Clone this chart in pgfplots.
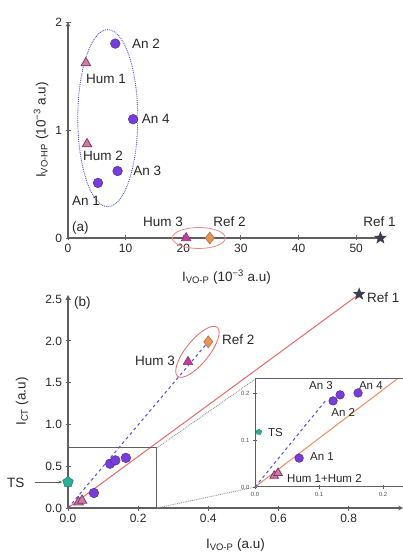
\documentclass[border=0pt]{standalone}
\usepackage{fontspec}
\setmainfont{Liberation Sans}
\usepackage{pgfplots}
\pgfplotsset{compat=1.18}
\usetikzlibrary{shapes.geometric,arrows.meta}
\definecolor{anC}{RGB}{118,62,214}
\definecolor{anD}{RGB}{80,40,160}
\definecolor{humC}{RGB}{176,72,130}
\definecolor{humD}{RGB}{140,50,100}
\definecolor{hum3C}{RGB}{200,60,160}
\definecolor{refC}{RGB}{225,150,90}
\definecolor{refD}{RGB}{190,110,60}
\definecolor{starC}{RGB}{60,60,80}
\definecolor{tsC}{RGB}{40,175,150}
\definecolor{blueL}{RGB}{80,80,225}
\definecolor{redL}{RGB}{230,105,105}
\definecolor{orL}{RGB}{240,140,100}
\definecolor{axgray}{RGB}{95,95,95}
\definecolor{txt}{RGB}{40,40,40}
\pgfdeclareplotmark{fstar}{%
  \pgfpathmoveto{\pgfpointpolar{90}{\pgfplotmarksize}}%
  \pgfpathlineto{\pgfpointpolar{126}{0.42\pgfplotmarksize}}%
  \pgfpathlineto{\pgfpointpolar{162}{\pgfplotmarksize}}%
  \pgfpathlineto{\pgfpointpolar{198}{0.42\pgfplotmarksize}}%
  \pgfpathlineto{\pgfpointpolar{234}{\pgfplotmarksize}}%
  \pgfpathlineto{\pgfpointpolar{270}{0.42\pgfplotmarksize}}%
  \pgfpathlineto{\pgfpointpolar{306}{\pgfplotmarksize}}%
  \pgfpathlineto{\pgfpointpolar{342}{0.42\pgfplotmarksize}}%
  \pgfpathlineto{\pgfpointpolar{18}{\pgfplotmarksize}}%
  \pgfpathlineto{\pgfpointpolar{54}{0.42\pgfplotmarksize}}%
  \pgfpathclose\pgfusepathqfillstroke}
\tikzset{
  lab/.style={font=\fontsize{13.5}{15}\selectfont, text=txt, inner sep=0pt},
  slab/.style={font=\fontsize{11.5}{13}\selectfont, text=txt, inner sep=0pt},
}
\pgfplotsset{
  base/.style={
    scale only axis, enlargelimits=false, clip=false,
    axis line style={-, axgray, line width=1.1pt},
    tick style={axgray, line width=0.9pt},
    tick align=center, major tick length=5pt,
    tick label style={font=\fontsize{12}{14}\selectfont, text=txt},
    /pgf/number format/assume math mode=true,
    label style={font=\fontsize{13.5}{15}\selectfont, text=txt},
  },
  anM/.style={only marks, mark=*, mark size=4.8pt, mark options={fill=anC, draw=anD, line width=0.5pt}},
  humM/.style={only marks, mark=triangle*, mark size=5.5pt, mark options={fill=humC!70, draw=humD, line width=0.8pt}},
  starM/.style={only marks, mark=fstar, mark size=6pt, mark options={fill=starC, draw=starC, line width=0.5pt}},
}
\begin{document}
\begin{tikzpicture}
\useasboundingbox (0,0) rectangle (403pt,553pt);
% ---------------- panel (a)
\begin{axis}[base,
  at={(68pt,315pt)}, anchor=south west, width=317pt, height=216pt,
  xmin=0, xmax=55, ymin=0, ymax=2,
  axis x line=bottom, axis y line=left,
  xtick={0,10,20,30,40,50}, ytick={0,1,2},
  xlabel={I\textsubscript{VO-P} (10\textsuperscript{−3} a.u)},
  ylabel={I\textsubscript{VO-HP} (10\textsuperscript{−3} a.u)},
  xlabel style={at={(axis description cs:0.5,-0.18)}, anchor=center},
  ylabel style={at={(axis description cs:-0.085,0.5)}, anchor=center},
]
\node[draw=blueL, densely dotted, line width=0.9pt, ellipse, minimum width=60pt, minimum height=177pt, inner sep=0pt] at (axis cs:6.9,1.11) {};
\node[draw=redL!80, line width=0.8pt, ellipse, minimum width=53pt, minimum height=21pt, inner sep=0pt] at (axis cs:22.7,0) {};
\addplot[anM] coordinates {(5.2,0.51) (8.2,1.80) (8.6,0.62) (11.3,1.10)};
\addplot[humM] coordinates {(3.1,1.62) (3.3,0.87)};
\addplot[only marks, mark=triangle*, mark size=5.5pt, mark options={fill=hum3C, draw=humD, line width=0.6pt}] coordinates {(20.5,0)};
\addplot[only marks, mark=diamond*, mark size=6pt, mark options={fill=refC, draw=refD, line width=0.6pt}] coordinates {(24.6,0)};
\addplot[starM] coordinates {(54.2,0)};
\node[lab, anchor=west] at (axis cs:11.1,1.80) {An 2};
\node[lab, anchor=west] at (axis cs:3.1,1.47) {Hum 1};
\node[lab, anchor=west] at (axis cs:12.8,1.10) {An 4};
\node[lab, anchor=west] at (axis cs:2.6,0.76) {Hum 2};
\node[lab, anchor=west] at (axis cs:11.3,0.62) {An 3};
\node[lab, anchor=west] at (axis cs:0.7,0.34) {An 1};
\node[lab, anchor=west] at (axis cs:0.7,0.09) {(a)};
\node[lab, anchor=west] at (axis cs:13.0,0.15) {Hum 3};
\node[lab, anchor=west] at (axis cs:25.2,0.15) {Ref 2};
\node[lab, anchor=west] at (axis cs:51.2,0.15) {Ref 1};
\end{axis}
% ---------------- panel (b)
\begin{axis}[base,
  at={(68pt,45pt)}, anchor=south west, width=335pt, height=213pt,
  xmin=0, xmax=0.955, ymin=0, ymax=2.55,
  axis x line=bottom, axis y line=left,
  xtick={0,0.2,0.4,0.6,0.8}, ytick={0,0.5,1,1.5,2,2.5},
  xticklabel style={/pgf/number format/fixed, /pgf/number format/fixed zerofill, /pgf/number format/precision=1},
  yticklabel style={/pgf/number format/fixed, /pgf/number format/fixed zerofill, /pgf/number format/precision=1},
  xlabel={I\textsubscript{VO-P} (a.u)},
  ylabel={I\textsubscript{CT} (a.u)},
  xlabel style={at={(axis description cs:0.5,-0.174)}, anchor=center},
  ylabel style={at={(axis description cs:-0.137,0.5)}, anchor=center},
]
\addplot[redL, line width=1pt] coordinates {(0,0) (0.83,2.56)};
\addplot[blueL, dashed, line width=1pt] coordinates {(0,0) (0.40,1.99)};
\addplot[axgray, line width=1pt] coordinates {(0,0.72) (0.253,0.72) (0.253,0)};
\addplot[axgray!70, densely dotted, line width=0.9pt] coordinates {(0.253,0.72) (0.533,1.54)};
\addplot[axgray!70, densely dotted, line width=0.9pt] coordinates {(0.253,0) (0.533,0.25)};
\node[draw=redL, line width=0.8pt, ellipse, minimum width=63pt, minimum height=23pt, inner sep=0pt, rotate=51] at (axis cs:0.369,1.87) {};
\addplot[anM] coordinates {(0.074,0.18) (0.12,0.53) (0.135,0.57) (0.165,0.60)};
\addplot[humM] coordinates {(0.030,0.07) (0.040,0.09)};
\addplot[only marks, mark=pentagon*, mark size=5.5pt, mark options={fill=tsC, draw=tsC!70!black, line width=0.5pt}] coordinates {(0,0.31)};
\addplot[only marks, mark=triangle*, mark size=5.5pt, mark options={fill=hum3C, draw=humD, line width=0.6pt}] coordinates {(0.342,1.75)};
\addplot[only marks, mark=diamond*, mark size=6pt, mark options={fill=refC, draw=refD, line width=0.6pt}] coordinates {(0.40,1.99)};
\addplot[starM] coordinates {(0.83,2.56)};
\addplot[axgray, line width=1pt, -{Stealth[length=4pt]}] coordinates {(-0.094,0.31) (-0.016,0.31)};
\node[lab, anchor=west] at (axis cs:0.017,2.45) {(b)};
\node[lab, anchor=east] at (axis cs:0.305,1.76) {Hum 3};
\node[lab, anchor=west] at (axis cs:0.439,2.01) {Ref 2};
\node[lab, anchor=west] at (axis cs:0.852,2.52) {Ref 1};
\node[lab, anchor=west] at (axis cs:-0.174,0.30) {TS};
\end{axis}
% ---------------- inset
\begin{axis}[base,
  at={(255pt,66pt)}, anchor=south west, width=153.6pt, height=108pt,
  xmin=0, xmax=0.24, ymin=0, ymax=0.232,
  axis background/.style={fill=white},
  axis line style={-, axgray, line width=1pt},
  xtick={0,0.1,0.2}, ytick={0,0.1,0.2},
  xtick pos=bottom, ytick pos=left, major tick length=4pt,
  tick label style={font=\fontsize{6}{7}\selectfont, text=txt!80},
  xticklabel style={/pgf/number format/fixed, /pgf/number format/fixed zerofill, /pgf/number format/precision=1},
  yticklabel style={/pgf/number format/fixed, /pgf/number format/fixed zerofill, /pgf/number format/precision=1},
]
\addplot[orL, line width=1pt] coordinates {(0,0) (0.222,0.232)};
\addplot[blueL, dashed, line width=1pt] coordinates {(0,0) (0.11,0.185)};
\addplot[anM, mark size=4.3pt] coordinates {(0.069,0.062) (0.122,0.185) (0.133,0.198) (0.161,0.202)};
\addplot[humM, mark size=5pt] coordinates {(0.030,0.024) (0.036,0.030)};
\addplot[only marks, mark=pentagon*, mark size=3pt, mark options={fill=tsC, draw=tsC!70!black, line width=0.4pt}] coordinates {(0.006,0.118)};
\node[slab] at (axis cs:0.103,0.217) {An 3};
\node[slab] at (axis cs:0.181,0.219) {An 4};
\node[slab] at (axis cs:0.138,0.159) {An 2};
\node[slab, anchor=west] at (axis cs:0.086,0.065) {An 1};
\node[slab, anchor=west] at (axis cs:0.020,0.118) {TS};
\node[slab, anchor=west] at (axis cs:0.050,0.019) {Hum 1+Hum 2};
\end{axis}
\end{tikzpicture}
\end{document}
